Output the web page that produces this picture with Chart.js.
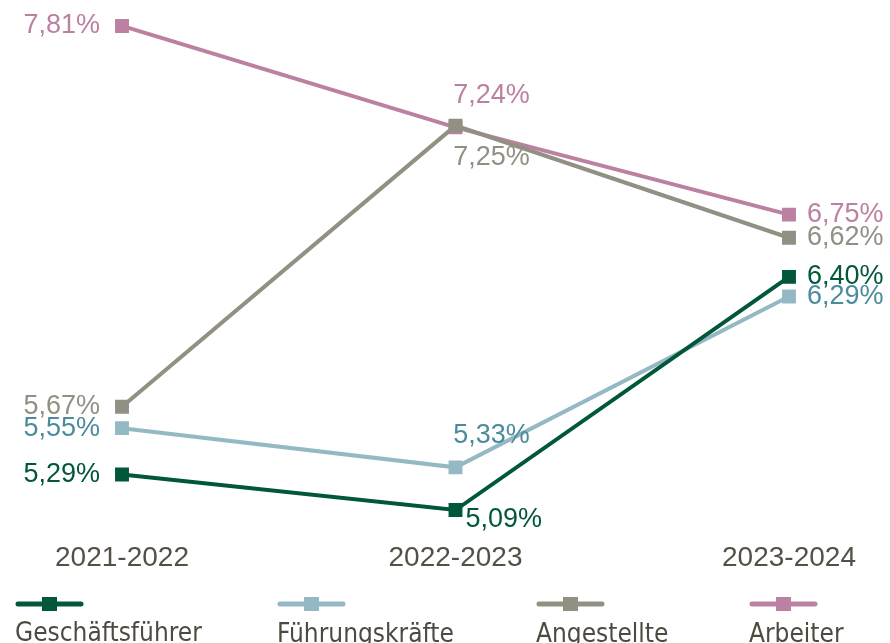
<!DOCTYPE html>
<html>
<head>
<meta charset="utf-8">
<script src="https://cdn.jsdelivr.net/npm/chart.js@4"></script>
<style>
  html, body { margin: 0; padding: 0; background: #fff; }
  #wrap { width: 890px; height: 643px; }
</style>
</head>
<body>
<div id="wrap"><canvas id="myChart" width="890" height="643"></canvas></div>
<script>
const categories = ["2021-2022", "2022-2023", "2023-2024"];
const seriesNames = ["Geschäftsführer", "Führungskräfte", "Angestellte", "Arbeiter"];
const geschaeftsfuehrer = [5.29, 5.09, 6.40];
const fuehrungskraefte = [5.55, 5.33, 6.29];
const angestellte = [5.67, 7.25, 6.62];
const arbeiter = [7.81, 7.24, 6.75];

const lineColors = ["#00573a", "#94b9c5", "#928f83", "#bb80a2"];
const textColors = ["#00573a", "#4a8c9c", "#928f83", "#bb80a2"];
// where each value label sits relative to its point
const labelPlaces = [
  ["left", "belowRight", "right"],
  ["left", "aboveRight", "right"],
  ["left", "belowRight", "right"],
  ["left", "aboveRight", "right"],
];

const valueLabels = {
  id: "valueLabels",
  afterDatasetsDraw(chart) {
    const ctx = chart.ctx;
    ctx.save();
    ctx.font = "27px 'Liberation Sans', Arial, sans-serif";
    chart.data.datasets.forEach((ds, i) => {
      chart.getDatasetMeta(i).data.forEach((pt, j) => {
        const txt = ds.data[j].toFixed(2).replace(".", ",") + "%";
        const place = labelPlaces[i][j];
        let x = pt.x, y = pt.y;
        ctx.fillStyle = textColors[i];
        ctx.textBaseline = "middle";
        if (place === "left") { ctx.textAlign = "right"; x -= 22; }
        else if (place === "right") { ctx.textAlign = "left"; x += 18; }
        else if (place === "aboveRight") { ctx.textAlign = "center"; x += 36; y -= 32; }
        else if (place === "belowRight") { ctx.textAlign = "center"; x += 36; y += 32; }
        if (i === 0 && j === 1) { ctx.textAlign = "left"; x = pt.x + 10; y = pt.y + 10; }
        ctx.fillText(txt, x, y);
      });
    });
    ctx.restore();
  }
};

const bottomLegend = {
  id: "bottomLegend",
  afterDraw(chart) {
    const ctx = chart.ctx;
    const starts = [15, 277, 536, 749];
    const lineY = 604;
    ctx.save();
    chart.data.datasets.forEach((ds, i) => {
      const x0 = starts[i];
      ctx.strokeStyle = ds.borderColor;
      ctx.lineWidth = 5;
      ctx.lineCap = "round";
      ctx.beginPath();
      ctx.moveTo(x0 + 3, lineY);
      ctx.lineTo(x0 + 66, lineY);
      ctx.stroke();
      ctx.fillStyle = ds.borderColor;
      ctx.fillRect(x0 + 27, lineY - 7, 15, 14);
      ctx.fillStyle = "#4d4b40";
      ctx.font = "26px 'Liberation Sans Narrow', 'DejaVu Sans Condensed', sans-serif";
      ctx.textAlign = "left";
      ctx.textBaseline = "alphabetic";
      ctx.fillText(ds.label, x0, 641 + (i === 0 ? 0 : 1));
    });
    ctx.restore();
  }
};

const series = [geschaeftsfuehrer, fuehrungskraefte, angestellte, arbeiter];

new Chart(document.getElementById("myChart").getContext("2d"), {
  type: "line",
  data: {
    labels: categories,
    datasets: series.map((vals, i) => ({
      label: seriesNames[i],
      data: vals,
      borderColor: lineColors[i],
      backgroundColor: lineColors[i],
      borderWidth: 4,
      pointStyle: "rect",
      pointRadius: 7,
      pointHoverRadius: 7,
      tension: 0,
    })),
  },
  options: {
    responsive: false,
    animation: false,
    layout: { padding: { left: 122, right: 101, top: 0, bottom: 58 } },
    scales: {
      x: {
        offset: false,
        grid: { display: false, drawTicks: false },
        border: { display: false },
        ticks: {
          color: "#545045",
          padding: 10,
          font: { family: "'Liberation Sans', Arial, sans-serif", size: 28 },
        },
      },
      y: {
        display: false,
        min: 4.97,
        max: 7.894,
      },
    },
    plugins: {
      legend: { display: false },
      tooltip: { enabled: false },
    },
  },
  plugins: [valueLabels, bottomLegend],
});
</script>
</body>
</html>
